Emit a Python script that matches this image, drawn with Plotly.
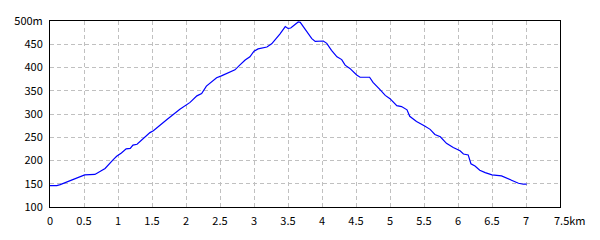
import plotly.graph_objects as go

distance_km = [0, 0.1, 0.15, 0.29, 0.44, 0.51, 0.66, 0.74, 0.81, 0.93, 0.98, 1.05, 1.12, 1.18, 1.22,
               1.28, 1.37, 1.47, 1.52, 1.62, 1.72, 1.91, 2.06, 2.16, 2.23, 2.30, 2.38, 2.45, 2.52, 2.62,
               2.72, 2.79, 2.87, 2.94, 3.0, 3.06, 3.19, 3.26, 3.33, 3.38, 3.46, 3.50, 3.54, 3.60, 3.65,
               3.68, 3.73, 3.78, 3.85, 3.90, 3.97, 4.02, 4.07, 4.14, 4.22, 4.29, 4.34, 4.41, 4.51, 4.56,
               4.70, 4.75, 4.85, 4.93, 5.0, 5.10, 5.17, 5.25, 5.29, 5.39, 5.51, 5.59, 5.66, 5.74, 5.83,
               5.93, 6.03, 6.08, 6.15, 6.19, 6.25, 6.32, 6.40, 6.50, 6.64, 6.76, 6.89, 6.96, 7.01]
elevation_m = [146, 146, 148, 156, 165, 169, 170, 177, 183, 202, 209, 216, 225, 226, 233,
               235, 247, 260, 264, 277, 288, 310, 325, 339, 344, 360, 370, 378, 382, 388,
               395, 405, 416, 423, 435, 440, 444, 451, 463, 472, 488, 484, 485, 493, 498,
               497, 486, 475, 462, 456, 456, 457, 452, 437, 423, 417, 405, 398, 384, 379,
               379, 368, 353, 340, 333, 318, 316, 309, 295, 284, 274, 267, 256, 251, 237,
               228, 221, 214, 212, 193, 188, 179, 174, 169, 167, 160, 151, 149, 149]
assert len(distance_km) == len(elevation_m)

x_tick_vals = [0, 0.5, 1, 1.5, 2, 2.5, 3, 3.5, 4, 4.5, 5, 5.5, 6, 6.5, 7, 7.5]
x_tick_text = ["0", "0.5", "1", "1.5", "2", "2.5", "3", "3.5", "4", "4.5", "5", "5.5", "6", "6.5", "7", ""]
x_last_label = "7.5km"
y_tick_vals = [100, 150, 200, 250, 300, 350, 400, 450, 500]
y_tick_text = ["100", "150", "200", "250", "300", "350", "400", "450", "500m"]

font = dict(family="Noto Sans CJK JP", size=11, color="black")

fig = go.Figure()
fig.add_trace(go.Scatter(x=distance_km, y=elevation_m, mode="lines",
                         line=dict(color="#0000ff", width=1.2), hoverinfo="skip"))

fig.update_layout(
    width=600, height=240,
    margin=dict(l=50, r=40, t=20, b=30),
    paper_bgcolor="white", plot_bgcolor="white",
    showlegend=False, font=font,
)
fig.update_xaxes(range=[0, 7.5], tickvals=x_tick_vals, ticktext=x_tick_text,
                 showgrid=True, gridcolor="#c0c0c0", griddash="4px,3px", gridwidth=1,
                 showline=True, linecolor="black", linewidth=1, mirror=True,
                 ticks="", zeroline=False, tickfont=font, ticklabelstandoff=4)
fig.update_yaxes(range=[100, 500], tickvals=y_tick_vals, ticktext=y_tick_text,
                 showgrid=True, gridcolor="#c0c0c0", griddash="4px,3px", gridwidth=1,
                 showline=True, linecolor="black", linewidth=1, mirror=True,
                 ticks="", zeroline=False, tickfont=font, ticklabelstandoff=4)
fig.add_annotation(x=x_tick_vals[-1], xref="x", y=0, yref="paper", text=x_last_label, showarrow=False,
                   xanchor="left", yanchor="top", xshift=-7, yshift=-4, borderpad=0, font=font)

fig.write_html("out.html")
